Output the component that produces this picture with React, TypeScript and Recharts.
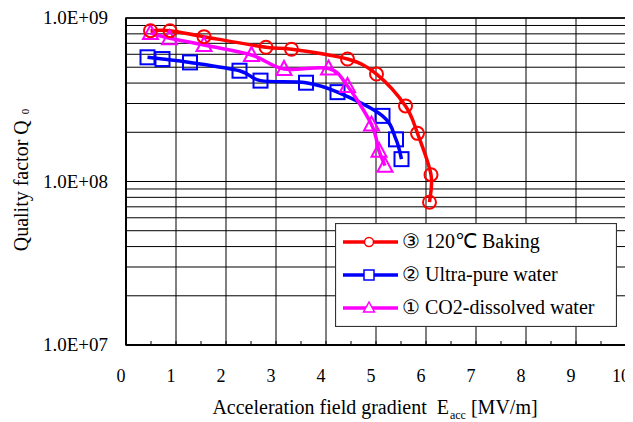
import React from 'react';
import {
  LineChart,
  Line,
  XAxis,
  YAxis,
  CartesianGrid,
  ReferenceLine,
  ReferenceArea,
  Legend,
} from 'recharts';

const FONT = 'Liberation Serif';

// ③ 120℃ Baking
const bakingX = [0.49, 0.88, 1.56, 2.8, 3.31, 4.43, 5.01, 5.59, 5.83, 6.1, 6.07];
const bakingQ = [8.36e8, 8.36e8, 7.69e8, 6.62e8, 6.44e8, 5.61e8, 4.54e8, 2.9e8, 1.97e8, 1.1e8, 7.47e7];
// ② Ultra-pure water
const upwX = [0.43, 0.73, 1.28, 2.27, 2.69, 3.6, 4.23, 5.13, 5.4, 5.51];
const upwQ = [5.75e8, 5.61e8, 5.35e8, 4.76e8, 4.14e8, 4.02e8, 3.52e8, 2.52e8, 1.81e8, 1.37e8];
// ① CO2-dissolved water
const co2X = [0.49, 0.87, 1.56, 2.51, 3.16, 4.05, 4.43, 4.91, 5.06, 5.18];
const co2Q = [8.09e8, 7.52e8, 6.84e8, 5.94e8, 4.88e8, 4.91e8, 3.84e8, 2.23e8, 1.54e8, 1.25e8];

const xTicks = [0, 0.5, 1, 1.5, 2, 2.5, 3, 3.5, 4, 4.5, 5, 5.5, 6, 6.5, 7, 7.5, 8, 8.5, 9, 9.5, 10];
const xTickLabels = ['0', '1', '2', '3', '4', '5', '6', '7', '8', '9', '10'];
const xGrid = [1, 2, 3, 4, 5, 6, 7, 8, 9];
const yTicks = [
  1e7, 2e7, 3e7, 4e7, 5e7, 6e7, 7e7, 8e7, 9e7,
  1e8, 2e8, 3e8, 4e8, 5e8, 6e8, 7e8, 8e8, 9e8, 1e9,
];
const yMajor = [1e7, 1e8, 1e9];
const yLabels = ['1.0E+07', '1.0E+08', '1.0E+09'];

const seriesNames = ['③ 120℃ Baking', '② Ultra-pure water', '① CO2-dissolved water'];
const seriesColors = ['#FF0000', '#0000FF', '#FF00FF'];

const toRows = (xs: number[], qs: number[]) => xs.map((x, i) => ({ x, q: qs[i] }));
const bakingData = toRows(bakingX, bakingQ);
const upwData = toRows(upwX, upwQ);
const co2Data = toRows(co2X, co2Q);

// Catmull-Rom style smoothing (like spreadsheet "smoothed line")
function smoothCurve(context: any) {
  let pts: [number, number][] = [];
  return {
    areaStart() {},
    areaEnd() {},
    lineStart() {
      pts = [];
    },
    point(x: number, y: number) {
      pts.push([+x, +y]);
    },
    lineEnd() {
      if (!pts.length) return;
      context.moveTo(pts[0][0], pts[0][1]);
      for (let i = 0; i < pts.length - 1; i++) {
        const p0 = pts[i - 1] || pts[i];
        const p1 = pts[i];
        const p2 = pts[i + 1];
        const p3 = pts[i + 2] || p2;
        const t = 1 / 6;
        context.bezierCurveTo(
          p1[0] + (p2[0] - p0[0]) * t,
          p1[1] + (p2[1] - p0[1]) * t,
          p2[0] - (p3[0] - p1[0]) * t,
          p2[1] - (p3[1] - p1[1]) * t,
          p2[0],
          p2[1]
        );
      }
    },
  };
}

const XTick = (props: any) => {
  const { x, y, payload } = props;
  const v = payload.value;
  const isInt = Number.isInteger(v);
  return (
    <g>
      {v > 0 && v < 10 && <line x1={x} x2={x} y1={y} y2={y - 4} stroke="#000" strokeWidth={1} />}
      {isInt && (
        <text x={x - 5} y={y + 37} textAnchor="middle" fontFamily={FONT} fontSize={18} fill="#000">
          {xTickLabels[v]}
        </text>
      )}
    </g>
  );
};

const YTick = (props: any) => {
  const { x, y, payload } = props;
  const i = yMajor.indexOf(payload.value);
  if (i < 0) return <g />;
  return (
    <text x={x - 18} y={y + 6} textAnchor="end" fontFamily={FONT} fontSize={19} fill="#000">
      {yLabels[i]}
    </text>
  );
};

const SquareDot = (props: any) => {
  const { cx, cy } = props;
  if (cx == null || cy == null) return <g />;
  return <rect x={cx - 7} y={cy - 7} width={14} height={14} fill="none" stroke="#0000FF" strokeWidth={2} />;
};

const TriDot = (props: any) => {
  const { cx, cy } = props;
  if (cx == null || cy == null) return <g />;
  return (
    <polygon
      points={`${cx},${cy - 8} ${cx + 7.5},${cy + 6} ${cx - 7.5},${cy + 6}`}
      fill="none"
      stroke="#FF00FF"
      strokeWidth={2}
    />
  );
};

const LegendBox = () => {
  const rows = [19, 52, 85];
  return (
    <svg width={282} height={104} style={{ display: 'block' }}>
      <rect x={0.5} y={0.5} width={281} height={103} fill="#fff" stroke="#333" strokeWidth={1.2} />
      {seriesNames.map((name, i) => {
        const ry = rows[i];
        const c = seriesColors[i];
        return (
          <g key={name}>
            <line x1={8} x2={63} y1={ry} y2={ry} stroke={c} strokeWidth={3.5} />
            {i === 0 && <circle cx={34} cy={ry} r={4.5} fill="#fff" stroke={c} strokeWidth={1.5} />}
            {i === 1 && <rect x={29} y={ry - 5} width={10} height={10} fill="#fff" stroke={c} strokeWidth={1.5} />}
            {i === 2 && (
              <polygon points={`34,${ry - 6} 39.5,${ry + 4} 28.5,${ry + 4}`} fill="#fff" stroke={c} strokeWidth={1.5} />
            )}
            <text x={67} y={ry + 6} fontFamily={FONT} fontSize={20} fill="#000">
              {name}
            </text>
          </g>
        );
      })}
    </svg>
  );
};

export default function App() {
  return (
    <LineChart
      width={625}
      height={414}
      margin={{ top: 10, right: 7, left: 8, bottom: 0 }}
      style={{ background: '#fff' }}
    >
      <CartesianGrid vertical={false} stroke="#000" strokeWidth={1} />
      {xGrid.map((g) => (
        <ReferenceLine key={g} x={g} stroke="#000" strokeWidth={1} />
      ))}
      <ReferenceArea x1={0} x2={10} y1={1e7} y2={1e9} fill="none" stroke="#000" strokeWidth={1.5} />
      <XAxis
        type="number"
        dataKey="x"
        domain={[0, 10]}
        ticks={xTicks}
        interval={0}
        allowDataOverflow
        height={77}
        tickSize={0}
        tickMargin={0}
        tickLine={false}
        axisLine={{ stroke: '#000', strokeWidth: 2 }}
        tick={<XTick />}
        label={{
          content: () => (
            <text x={367} y={406} textAnchor="middle" fontFamily={FONT} fontSize={20} fill="#000">
              {'Acceleration field gradient\u00a0\u00a0E'}
              <tspan fontSize={12} dy={5} dx={1}>acc</tspan>
              <tspan dy={-5}>{'\u00a0[MV/m]'}</tspan>
            </text>
          ),
        }}
      />
      <YAxis
        type="number"
        dataKey="q"
        scale="log"
        domain={[1e7, 1e9]}
        ticks={yTicks}
        interval={0}
        allowDataOverflow
        width={110}
        tickSize={0}
        tickMargin={0}
        tickLine={false}
        axisLine={{ stroke: '#000', strokeWidth: 2 }}
        tick={<YTick />}
        label={{
          content: () => (
            <text
              x={0}
              y={0}
              transform="translate(20,172) rotate(-90)"
              textAnchor="middle"
              fontFamily={FONT}
              fontSize={20}
              fill="#000"
            >
              Quality factor Q
              <tspan fontSize={11} dx={6} dy={1}>0</tspan>
            </text>
          ),
        }}
      />
      <Legend
        layout="vertical"
        align="center"
        verticalAlign="middle"
        wrapperStyle={{ position: 'absolute', left: 327, top: 215, width: 282, height: 104 }}
        content={() => <LegendBox />}
      />
      <Line
        data={upwData}
        dataKey="q"
        name={seriesNames[1]}
        type={smoothCurve as any}
        stroke="#0000FF"
        strokeWidth={3.5}
        dot={<SquareDot />}
        activeDot={false}
        isAnimationActive={false}
      />
      <Line
        data={co2Data}
        dataKey="q"
        name={seriesNames[2]}
        type={smoothCurve as any}
        stroke="#FF00FF"
        strokeWidth={3.5}
        dot={<TriDot />}
        activeDot={false}
        isAnimationActive={false}
      />
      <Line
        data={bakingData}
        dataKey="q"
        name={seriesNames[0]}
        type={smoothCurve as any}
        stroke="#FF0000"
        strokeWidth={3.5}
        dot={{ r: 6.5, fill: 'none', stroke: '#FF0000', strokeWidth: 2 }}
        activeDot={false}
        isAnimationActive={false}
      />
    </LineChart>
  );
}
